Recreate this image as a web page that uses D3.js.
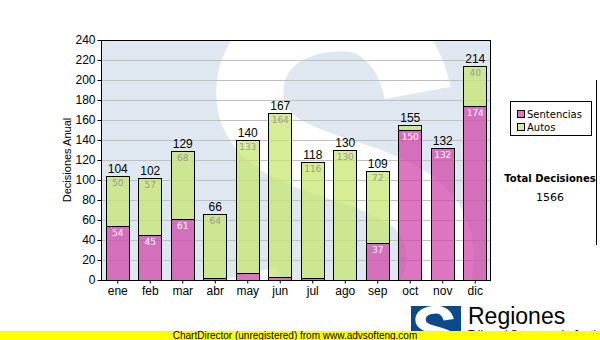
<!DOCTYPE html>
<html>
<head>
<meta charset="utf-8">
<script src="https://cdn.jsdelivr.net/npm/d3@7/dist/d3.min.js"></script>
<style>
  html, body { margin: 0; padding: 0; background: #fff; }
  svg { display: block; }
</style>
</head>
<body>
<svg id="chart" width="600" height="340"></svg>
<script>
// Monthly decisions, stacked by type
const months = ["ene", "feb", "mar", "abr", "may", "jun", "jul", "ago", "sep", "oct", "nov", "dic"];
const sentencias = [54, 45, 61, 2, 7, 3, 2, 0, 37, 150, 132, 174];
const autos = [50, 57, 68, 64, 133, 164, 116, 130, 72, 5, 0, 40];
const yTicks = [0, 20, 40, 60, 80, 100, 120, 140, 160, 180, 200, 220, 240];
const seriesNames = ["Sentencias", "Autos"];

const totals = months.map((m, i) => sentencias[i] + autos[i]);
const grandTotal = d3.sum(totals);

const svg = d3.select("#chart");
const plot = { left: 101, top: 40, right: 491, bottom: 280 };

const x = d3.scaleBand().domain(months).range([plot.left, plot.right]).paddingInner(0.28).paddingOuter(0.14);
const y = d3.scaleLinear().domain([0, 240]).range([plot.bottom, plot.top]);

const colors = { Sentencias: "#d040a8", Autos: "#c6e46c" };
const fillOpacity = 0.72;

// Centre line of the "S" logo mark, in a 100 x 140 unit box
const sMark = "M 76 38 C 72 18, 60 10, 50 10 C 28 10, 16 22, 16 38 C 16 56, 32 62, 50 68 " +
              "C 70 75, 84 82, 84 102 C 84 120, 68 130, 50 130 C 32 130, 18 124, 14 108";

// Plot background with the large pale logo watermark
const defs = svg.append("defs");
defs.append("clipPath").attr("id", "plotClip")
  .append("rect")
  .attr("x", plot.left).attr("y", plot.top)
  .attr("width", plot.right - plot.left).attr("height", plot.bottom - plot.top);

const bg = svg.append("g").attr("clip-path", "url(#plotClip)");
bg.append("rect")
  .attr("x", plot.left).attr("y", plot.top)
  .attr("width", plot.right - plot.left).attr("height", plot.bottom - plot.top)
  .attr("fill", "#dfe8f1");
bg.append("path")
  .attr("d", sMark)
  .attr("transform", "translate(205,-6) scale(2.8,2.6)")
  .attr("fill", "none")
  .attr("stroke", "#ffffff")
  .attr("stroke-width", 24);

// Gridlines
svg.append("g")
  .selectAll("line")
  .data(yTicks.filter(t => t > 0 && t < 240))
  .join("line")
  .attr("x1", plot.left).attr("x2", plot.right)
  .attr("y1", d => y(d) + 0.5).attr("y2", d => y(d) + 0.5)
  .attr("stroke", "#c0c0c0")
  .attr("stroke-width", 1);

// Stacked bars
const stackData = months.map((m, i) => ({ month: m, Sentencias: sentencias[i], Autos: autos[i] }));
const stacked = d3.stack().keys(seriesNames)(stackData);

const barGroups = svg.append("g")
  .selectAll("g")
  .data(stacked)
  .join("g");

barGroups.selectAll("rect")
  .data(s => s.map(d => ({ key: s.key, d })))
  .join("rect")
  .filter(o => o.d[1] - o.d[0] > 0)
  .attr("x", o => Math.round(x(o.d.data.month)) + 0.5)
  .attr("y", o => Math.round(y(o.d[1])) + 0.5)
  .attr("width", Math.round(x.bandwidth()))
  .attr("height", o => Math.round(y(o.d[0])) - Math.round(y(o.d[1])))
  .attr("fill", o => colors[o.key])
  .attr("fill-opacity", fillOpacity)
  .attr("stroke", "#000")
  .attr("stroke-width", 1);

// Segment value labels
barGroups.selectAll("text")
  .data(s => s.map(d => ({ key: s.key, d })))
  .join("text")
  .filter(o => o.d[1] - o.d[0] >= 15)
  .attr("x", o => x(o.d.data.month) + x.bandwidth() / 2 + 0.5)
  .attr("y", o => y(o.d[1]) + 10)
  .attr("text-anchor", "middle")
  .attr("font-family", "DejaVu Sans")
  .attr("font-size", 9)
  .attr("fill", o => o.key === "Sentencias" ? "#ffffff" : "#9a9a9a")
  .text(o => o.d[1] - o.d[0]);

// Totals above each bar
svg.append("g")
  .selectAll("text")
  .data(months.map((m, i) => ({ m, t: totals[i] })))
  .join("text")
  .attr("x", d => x(d.m) + x.bandwidth() / 2 + 0.5)
  .attr("y", d => y(d.t) - 3)
  .attr("text-anchor", "middle")
  .attr("font-family", "Liberation Sans")
  .attr("font-size", 12)
  .attr("fill", "#000")
  .text(d => d.t);

// Plot frame
svg.append("rect")
  .attr("x", plot.left + 0.5).attr("y", plot.top + 0.5)
  .attr("width", plot.right - plot.left - 1).attr("height", plot.bottom - plot.top)
  .attr("fill", "none").attr("stroke", "#000");

// Axes
const yAxis = d3.axisLeft(y).tickValues(yTicks).tickSize(4).tickPadding(2);
svg.append("g")
  .attr("transform", `translate(${plot.left + 0.5},0)`)
  .call(yAxis)
  .call(g => g.select(".domain").remove())
  .call(g => g.selectAll("text").attr("font-family", "Liberation Sans").attr("font-size", 12).attr("fill", "#000"));

const xAxis = d3.axisBottom(x).tickSize(3).tickPadding(3);
svg.append("g")
  .attr("transform", `translate(0.5,${plot.bottom + 0.5})`)
  .call(xAxis)
  .call(g => g.select(".domain").remove())
  .call(g => g.selectAll("text").attr("font-family", "Liberation Sans").attr("font-size", 12).attr("fill", "#000"));

// Y axis title
svg.append("text")
  .attr("transform", "translate(71,160) rotate(-90)")
  .attr("text-anchor", "middle")
  .attr("font-family", "Liberation Sans")
  .attr("font-size", 11)
  .attr("fill", "#000")
  .text("Decisiones Anual");

// Side panel edge
svg.append("line")
  .attr("x1", 596.5).attr("x2", 596.5).attr("y1", 80).attr("y2", 245)
  .attr("stroke", "#000");

// Legend
const legend = svg.append("g");
legend.append("rect")
  .attr("x", 510.5).attr("y", 101.5).attr("width", 81).attr("height", 34)
  .attr("fill", "#fff").attr("stroke", "#000");
seriesNames.forEach((name, i) => {
  const ly = 110 + i * 13;
  legend.append("rect")
    .attr("x", 517.5).attr("y", ly + 0.5).attr("width", 7).attr("height", 7)
    .attr("fill", colors[name]).attr("fill-opacity", fillOpacity)
    .attr("stroke", "#000");
  legend.append("text")
    .attr("x", 527).attr("y", ly + 8)
    .attr("font-family", "DejaVu Sans")
    .attr("font-size", 10)
    .attr("fill", "#000")
    .text(name);
});

// Grand total
svg.append("text")
  .attr("x", 550).attr("y", 182)
  .attr("text-anchor", "middle")
  .attr("font-family", "DejaVu Sans")
  .attr("font-weight", "bold")
  .attr("font-size", 10)
  .attr("fill", "#000")
  .text("Total Decisiones");
svg.append("text")
  .attr("x", 550).attr("y", 201)
  .attr("text-anchor", "middle")
  .attr("font-family", "DejaVu Sans")
  .attr("font-size", 11)
  .attr("fill", "#000")
  .text(grandTotal);

// Footer logo
const logo = svg.append("g");
logo.append("rect")
  .attr("x", 411).attr("y", 306).attr("width", 50).attr("height", 34)
  .attr("fill", "#0d4a8c");
logo.append("path")
  .attr("d", sMark)
  .attr("transform", "translate(413,306) scale(0.47,0.36)")
  .attr("fill", "none")
  .attr("stroke", "#ffffff")
  .attr("stroke-width", 22);
logo.append("text")
  .attr("x", 468).attr("y", 324)
  .attr("font-family", "Liberation Sans")
  .attr("font-size", 23)
  .attr("fill", "#000")
  .text("Regiones");
logo.append("text")
  .attr("x", 468).attr("y", 338)
  .attr("font-family", "Liberation Sans")
  .attr("font-size", 11)
  .attr("fill", "#000")
  .text("Tribunal Supremo de Justicia");

// Footer banner
svg.append("rect")
  .attr("x", 0).attr("y", 331).attr("width", 600).attr("height", 9)
  .attr("fill", "#ffff00");
svg.append("text")
  .attr("x", 295).attr("y", 339)
  .attr("text-anchor", "middle")
  .attr("font-family", "Liberation Sans")
  .attr("font-size", 10)
  .attr("fill", "#000")
  .text("ChartDirector (unregistered) from www.advsofteng.com");
</script>
</body>
</html>
